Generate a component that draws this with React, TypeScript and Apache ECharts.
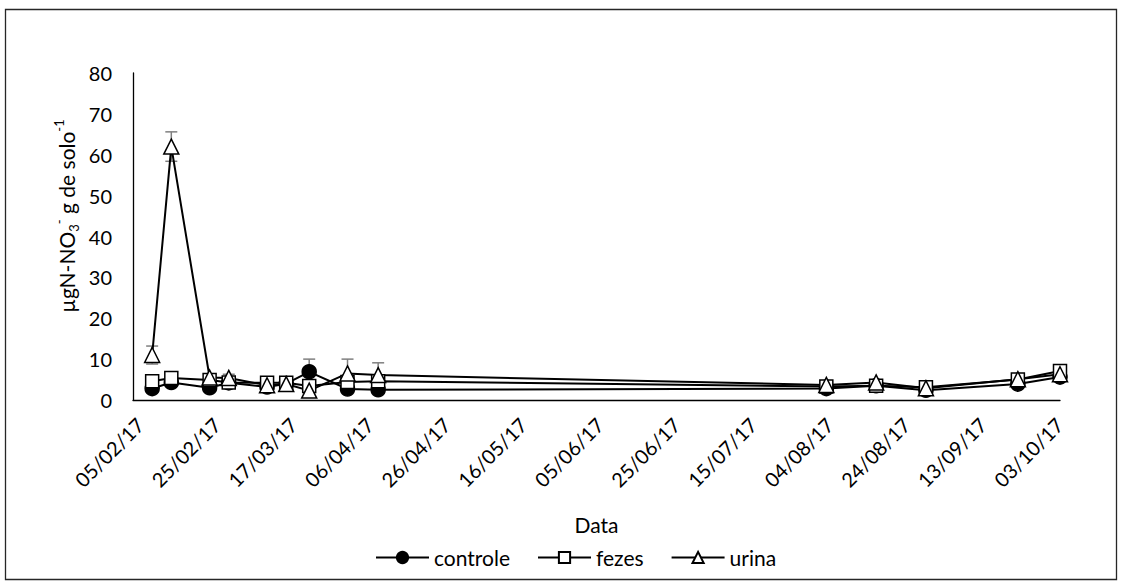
import React, { useEffect, useRef } from "react";
import * as echarts from "echarts";

const sampleDates = [
  "10/02/17", "15/02/17", "25/02/17", "02/03/17", "12/03/17", "17/03/17", "23/03/17",
  "02/04/17", "10/04/17", "05/08/17", "18/08/17", "31/08/17", "24/09/17", "05/10/17",
];
const controle = [2.8, 4.3, 3.0, 4.2, 3.2, 4.0, 6.9, 2.7, 2.5, 2.8, 3.5, 2.4, 3.9, 5.6];
const fezes = [4.6, 5.4, 4.9, 4.3, 4.2, 4.2, 3.4, 4.4, 4.6, 3.3, 3.5, 3.1, 5.0, 7.1];
const urina = [11.0, 62.0, 5.5, 5.4, 3.6, 3.9, 2.3, 6.5, 6.1, 3.7, 4.3, 2.9, 5.1, 6.3];
const controleErr = [0.5, 0.5, 0.4, 0.3, 0.4, 0.3, 3.1, 0.4, 0.4, 0.3, 0.3, 0.3, 0.4, 0.4];
const fezesErr = [0.6, 0.5, 0.5, 0.4, 0.4, 0.4, 0.4, 0.5, 0.5, 0.3, 0.4, 0.3, 0.4, 0.4];
const urinaErr = [2.2, 3.6, 0.9, 0.9, 0.5, 0.5, 0.5, 3.5, 3.0, 0.4, 0.4, 0.4, 0.5, 0.5];

const xTickLabels = [
  "05/02/17", "25/02/17", "17/03/17", "06/04/17", "26/04/17", "16/05/17", "05/06/17",
  "25/06/17", "15/07/17", "04/08/17", "24/08/17", "13/09/17", "03/10/17",
];
const yTicks = [0, 10, 20, 30, 40, 50, 60, 70, 80];
const seriesNames = ["controle", "fezes", "urina"];

const AXIS_START = "05/02/17";
const AXIS_END = "05/10/17";
const TICK_DAYS = 20;

const FONT = "Lato, 'Open Sans', sans-serif";

function toUTC(s: string): number {
  const [d, m, y] = s.split("/").map(Number);
  return Date.UTC(2000 + y, m - 1, d);
}
function dayOffset(s: string): number {
  return Math.round((toUTC(s) - toUTC(AXIS_START)) / 86400000);
}

export default function App() {
  const ref = useRef<HTMLDivElement>(null);
  useEffect(() => {
    if (!ref.current) return;
    const chart = echarts.init(ref.current, undefined, { renderer: "svg" });
    const xs = sampleDates.map(dayOffset);
    const values = [controle, fezes, urina];
    const errs = [controleErr, fezesErr, urinaErr];
    const errData: number[][] = [];
    values.forEach((vals, si) => {
      vals.forEach((v, i) => {
        errData.push([xs[i], v - errs[si][i], v + errs[si][i]]);
      });
    });
    const symbols = ["circle", "rect", "triangle"];
    const sizes = [14, 13, 15];
    const fills = ["#000", "#fff", "#fff"];

    chart.setOption({
      animation: false,
      backgroundColor: "#fff",
      grid: { left: 133, right: 61, top: 73, bottom: 183, containLabel: false },
      graphic: [
        {
          type: "rect",
          shape: { x: 5.5, y: 9.5, width: 1111, height: 570 },
          style: { fill: "none", stroke: "#262626", lineWidth: 1.3 },
          silent: true,
        },
        {
          type: "text",
          x: 66,
          y: 216,
          rotation: Math.PI / 2,
          style: {
            text: "{a|µgN-NO}{sub|3}{sup|-}{a| g de solo}{sup|-1}",
            align: "center",
            verticalAlign: "middle",
            fill: "#000",
            rich: {
              a: { fontSize: 21, fontFamily: FONT, fill: "#000", lineHeight: 28 },
              sub: { fontSize: 13, fontFamily: FONT, fill: "#000", verticalAlign: "bottom", lineHeight: 14 },
              sup: { fontSize: 13, fontFamily: FONT, fill: "#000", verticalAlign: "top", lineHeight: 14 },
            },
          },
        },
      ],
      legend: {
        data: seriesNames,
        left: 370,
        top: 542,
        itemWidth: 53,
        itemHeight: 14,
        itemGap: 27,
        textStyle: { fontFamily: FONT, fontSize: 21, color: "#000" },
      },
      xAxis: {
        type: "value",
        min: 0,
        max: dayOffset(AXIS_END),
        interval: TICK_DAYS,
        name: "Data",
        nameLocation: "middle",
        nameGap: 114,
        nameTextStyle: { fontFamily: FONT, fontSize: 21, color: "#000" },
        axisLine: { show: true, onZero: false, lineStyle: { color: "#000", width: 1.3 } },
        axisTick: { show: false },
        splitLine: { show: false },
        axisLabel: {
          rotate: 45,
          margin: 14,
          verticalAlign: "top",
          fontFamily: FONT,
          fontSize: 20,
          color: "#000",
          showMaxLabel: false,
          formatter: (v: number) => {
            const idx = Math.round(v / TICK_DAYS);
            return Math.abs(v - idx * TICK_DAYS) < 1e-6 ? xTickLabels[idx] ?? "" : "";
          },
        },
      },
      yAxis: {
        type: "value",
        min: yTicks[0],
        max: yTicks[yTicks.length - 1],
        interval: yTicks[1] - yTicks[0],
        axisLine: { show: true, lineStyle: { color: "#000", width: 1.3 } },
        axisTick: { show: false },
        splitLine: { show: false },
        axisLabel: { margin: 21, fontFamily: FONT, fontSize: 20, color: "#000" },
      },
      series: [
        {
          type: "custom",
          name: "err",
          z: 1,
          silent: true,
          data: errData,
          encode: { x: 0, y: [1, 2] },
          renderItem: (params: any, api: any) => {
            const x = api.value(0);
            const top = api.coord([x, api.value(2)]);
            const bot = api.coord([x, api.value(1)]);
            const w = 6;
            const style = { stroke: "#7f7f7f", lineWidth: 1.5 };
            return {
              type: "group",
              children: [
                { type: "line", shape: { x1: top[0], y1: top[1], x2: bot[0], y2: bot[1] }, style },
                { type: "line", shape: { x1: top[0] - w, y1: top[1], x2: top[0] + w, y2: top[1] }, style },
                { type: "line", shape: { x1: bot[0] - w, y1: bot[1], x2: bot[0] + w, y2: bot[1] }, style },
              ],
            };
          },
        },
        ...seriesNames.map((name, si) => ({
          type: "line",
          name,
          z: 2,
          data: xs.map((x, i) => [x, values[si][i]]),
          symbol: symbols[si],
          symbolSize: sizes[si],
          showAllSymbol: true,
          lineStyle: { color: "#000", width: 2 },
          itemStyle: { color: fills[si], borderColor: "#000", borderWidth: 1.5 },
          emphasis: { disabled: true },
        })),
      ],
    });
    return () => chart.dispose();
  }, []);
  return (
    <div
      ref={ref}
      style={{ position: "fixed", left: 0, top: 0, width: 1121, height: 583, background: "#fff" }}
    />
  );
}
